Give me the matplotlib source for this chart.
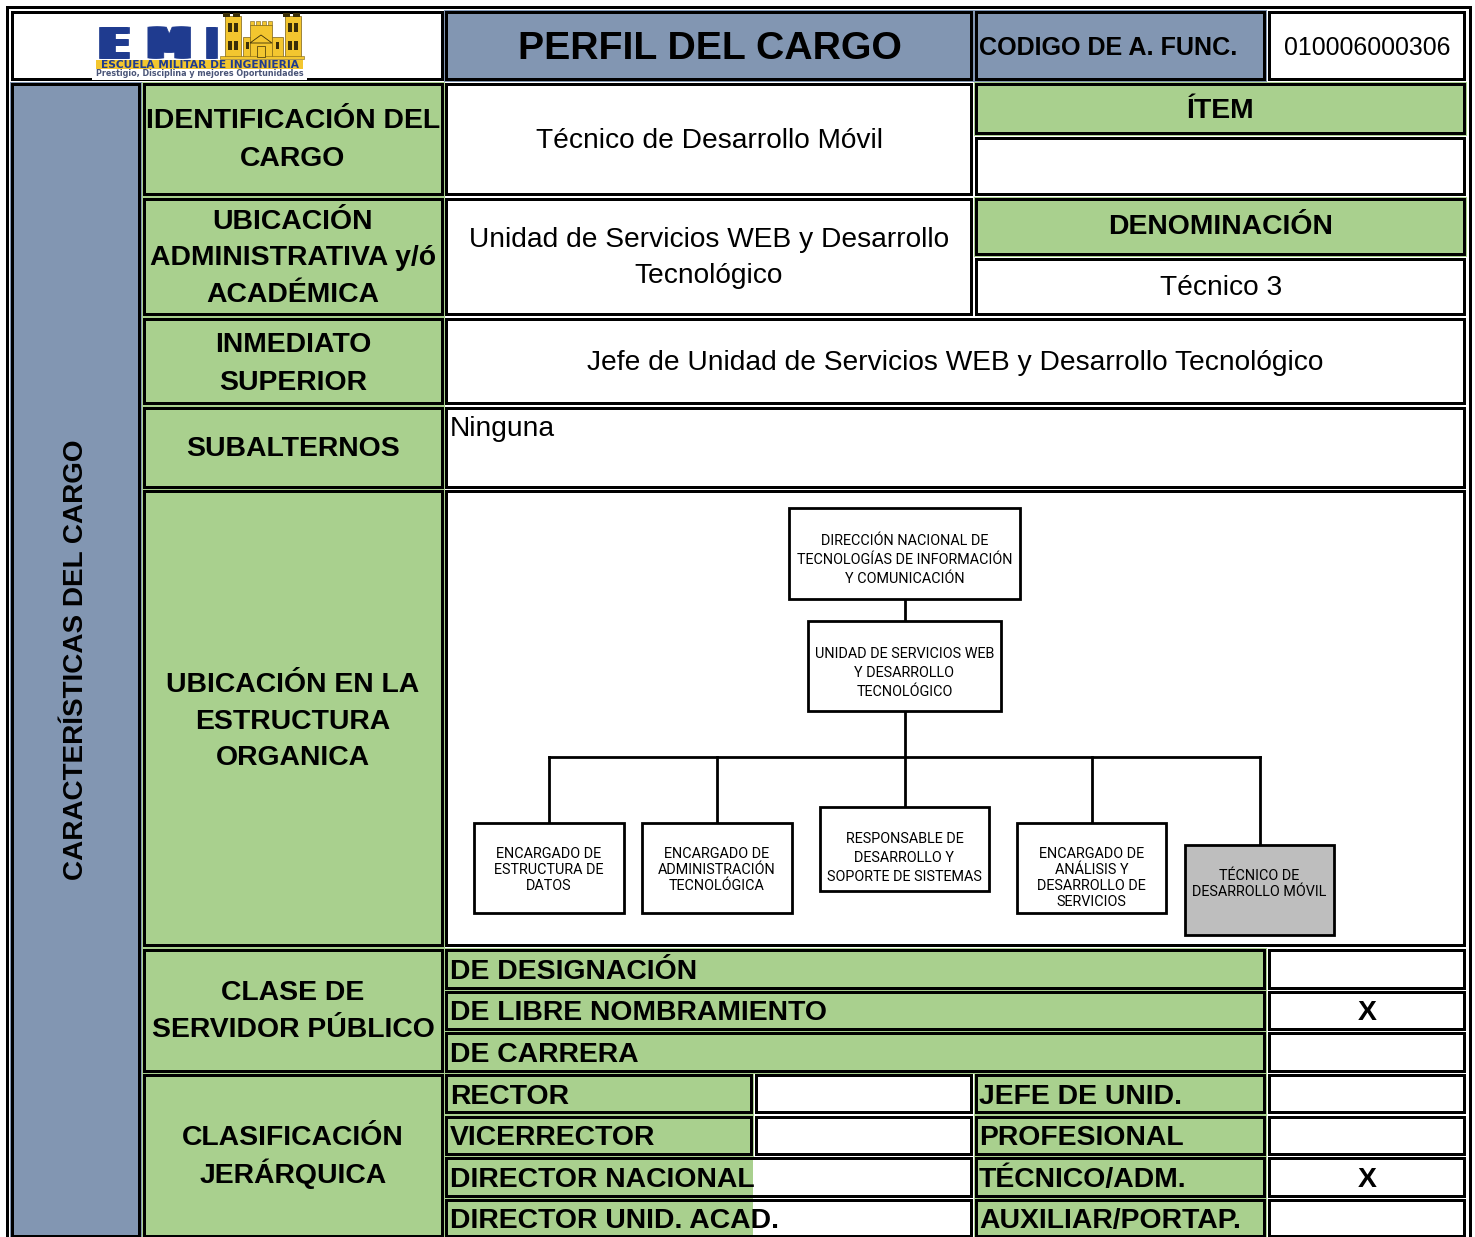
import matplotlib
matplotlib.use("Agg")
import matplotlib.pyplot as plt
from matplotlib.patches import Rectangle, Polygon
import matplotlib.patheffects as pe

GREEN = "#A9D08E"; BLUE = "#8296B2"; WHITE = "#FFFFFF"; GRAY = "#BEBEBE"; NAVY = "#1F3B8F"; GOLD = "#F3C62F"
DARK = "#3A2E08"
SANS = ["Liberation Sans", "DejaVu Sans"]
NARROW = ["Roboto", "Liberation Sans"]
HEAD = 20.4; BODY = 20.25

# ---- content ----
title = "PERFIL DEL CARGO"
code_label = "CODIGO DE A. FUNC."
code_value = "010006000306"
side_label = "CARACTERÍSTICAS DEL CARGO"
section_labels = [
    ["IDENTIFICACIÓN DEL", "CARGO"],
    ["UBICACIÓN", "ADMINISTRATIVA y/ó", "ACADÉMICA"],
    ["INMEDIATO", "SUPERIOR"],
    ["SUBALTERNOS"],
    ["UBICACIÓN EN LA", "ESTRUCTURA", "ORGANICA"],
    ["CLASE DE", "SERVIDOR PÚBLICO"],
    ["CLASIFICACIÓN", "JERÁRQUICA"],
]
servidor_rows = ["DE DESIGNACIÓN", "DE LIBRE NOMBRAMIENTO", "DE CARRERA"]
servidor_marks = ["", "X", ""]
jerarquia_left = ["RECTOR", "VICERRECTOR", "DIRECTOR NACIONAL", "DIRECTOR UNID. ACAD."]
jerarquia_right = ["JEFE DE UNID.", "PROFESIONAL", "TÉCNICO/ADM.", "AUXILIAR/PORTAP."]
jerarquia_marks = ["", "", "X", ""]
org_boxes = [
    ["DIRECCIÓN NACIONAL DE", "TECNOLOGÍAS DE INFORMACIÓN", "Y COMUNICACIÓN"],
    ["UNIDAD DE SERVICIOS WEB", "Y DESARROLLO", "TECNOLÓGICO"],
    ["ENCARGADO DE", "ESTRUCTURA DE", "DATOS"],
    ["ENCARGADO DE", "ADMINISTRACIÓN", "TECNOLÓGICA"],
    ["RESPONSABLE DE", "DESARROLLO Y", "SOPORTE DE SISTEMAS"],
    ["ENCARGADO DE", "ANÁLISIS Y", "DESARROLLO DE", "SERVICIOS"],
    ["TÉCNICO DE", "DESARROLLO MÓVIL"],
]

# ---- page, one unit per pixel ----
fig = plt.figure(figsize=(14.75, 12.37), dpi=100)
ax = fig.add_axes([0, 0, 1, 1])
ax.set_xlim(0, 1475); ax.set_ylim(1237, 0); ax.axis("off")


def cell(x0, y0, x1, y1, face=WHITE, lw=2.16, z=2, under=True):
    if under and face != WHITE:
        ax.add_patch(Rectangle((x0 - 2.5, y0 - 2.5), x1 - x0 + 5, y1 - y0 + 5, fc=face, ec="none", zorder=1.5))
    ax.add_patch(Rectangle((x0, y0), x1 - x0, y1 - y0, fc=face, ec="black", lw=lw,
                           joinstyle="miter", zorder=z))


def label(x, y, s, size=HEAD, bold=True, ha="center", va="baseline", fam=SANS, z=6, **kw):
    return ax.text(x, y, s, fontsize=size, fontweight="bold" if bold else "normal", ha=ha, va=va,
                   family=fam, zorder=z, color=kw.pop("color", "black"), **kw)


# outer frame
ax.plot([6.5, 6.5, 1469.5, 1469.5], [1237, 6.5, 6.5, 1237], color="black", lw=2.16, zorder=1,
        solid_joinstyle="miter", solid_capstyle="butt")

# header
cell(12, 12, 442, 79)
cell(446, 12, 971, 79, BLUE)
cell(976, 12, 1264, 79, BLUE)
cell(1269, 12, 1464, 79)
label(710, 59, title, size=28.3)
label(979, 55, code_label, size=18.1, ha="left")
label(1367.5, 55, code_value, size=17.9, bold=False)

# side column
cell(12, 84, 139, 1236, BLUE)
label(76.5, 660, side_label, size=20.1, rotation=90, va="center", rotation_mode="anchor")

# section headings
section_boxes = [(84, 194), (199, 314), (319, 403), (408, 487), (491, 945), (950, 1071), (1075, 1236)]
section_baselines = [[128, 166], [229, 265, 302], [352, 390], [456], [692, 729, 765], [1000, 1037], [1145, 1183]]
for (y0, y1), lines, ys in zip(section_boxes, section_labels, section_baselines):
    cell(144, y0, 442, y1, GREEN)
    for s, y in zip(lines, ys):
        label(293, y, s)

# identification values
cell(446, 84, 971, 194)
label(709, 148, "Técnico de Desarrollo Móvil", size=BODY, bold=False)
cell(976, 84, 1464, 133, GREEN)
label(1220, 117.5, "ÍTEM")
cell(976, 138, 1464, 194)
cell(446, 199, 971, 314)
label(709, 247, "Unidad de Servicios WEB y Desarrollo", size=BODY, bold=False)
label(709, 283, "Tecnológico", size=BODY, bold=False)
cell(976, 199, 1464, 254, GREEN)
label(1221, 234.5, "DENOMINACIÓN")
cell(976, 259, 1464, 314)
label(1221, 295, "Técnico 3", size=BODY, bold=False)
cell(446, 319, 1464, 403)
label(955.5, 370, "Jefe de Unidad de Servicios WEB y Desarrollo Tecnológico", size=BODY, bold=False)
cell(446, 408, 1464, 487)
label(450, 436, "Ninguna", size=BODY, bold=False, ha="left")
cell(446, 491, 1464, 945)

# organisation chart
ORG_LW = 2.0
for xs, ys in [([905, 905], [599, 621]), ([905, 905], [711, 807]), ([549, 1260], [757, 757]),
               ([549, 549], [757, 823]), ([717, 717], [757, 823]), ([1092, 1092], [757, 823]),
               ([1260, 1260], [757, 845])]:
    ax.plot(xs, ys, color="black", lw=ORG_LW, zorder=3, solid_capstyle="projecting")
org_pos = [(789, 508, 1020, 599), (808, 621, 1001, 711), (474, 823, 624, 913), (642, 823, 792, 913),
           (820, 807, 989, 891), (1017, 823, 1166, 913), (1185, 845, 1334, 935)]
org_base = [[545, 564, 583], [658, 677, 696], [858, 874, 890], [858, 874, 890], [843, 862, 881],
            [858, 874, 890, 906], [880, 896]]
for i, ((x0, y0, x1, y1), lines, ys) in enumerate(zip(org_pos, org_boxes, org_base)):
    cell(x0, y0, x1, y1, GRAY if i == 6 else WHITE, lw=ORG_LW, z=4, under=False)
    for s, y in zip(lines, ys):
        label((x0 + x1) / 2, y, s, size=10.4, bold=False, fam=NARROW)

# clase de servidor
row_y = [(950, 988), (992, 1029), (1033, 1071)]
row_base = [979, 1020, 1062]
for (y0, y1), s, m, yb in zip(row_y, servidor_rows, servidor_marks, row_base):
    cell(446, y0, 1264, y1, GREEN)
    cell(1269, y0, 1464, y1)
    label(450, yb, s, ha="left")
    label(1367, yb, m)

# clasificacion jerarquica
jer_y = [(1075, 1112), (1117, 1154), (1158, 1196), (1200, 1236)]
jer_base = [1104, 1145, 1187, 1228]
for i, ((y0, y1), a, b, m, yb) in enumerate(zip(jer_y, jerarquia_left, jerarquia_right, jerarquia_marks, jer_base)):
    if i < 2:
        cell(446, y0, 751, y1, GREEN)
        cell(756, y0, 971, y1)
    else:
        ax.add_patch(Rectangle((443.5, y0 - 2.5), 309.5, y1 - y0 + 5, fc=GREEN, ec="none", zorder=1.5))
        cell(446, y0, 971, y1)
        ax.add_patch(Rectangle((447.5, y0 + 1.5), 305.5, y1 - y0 - 3, fc=GREEN, ec="none", zorder=3))
    cell(976, y0, 1264, y1, GREEN)
    cell(1269, y0, 1464, y1)
    label(450, yb, a, ha="left")
    label(979, yb, b, ha="left")
    label(1367, yb, m)

# logo
ax.add_patch(Rectangle((92, 60), 215, 19.5, fc=WHITE, ec="none", zorder=5))
for x, s, widen in [(95, "E", 6), (144, "M", 6), (202, "I", 2)]:
    t = label(x, 58, s, size=30.5, fam=["DejaVu Sans"], ha="left", color=NAVY)
    t.set_path_effects([pe.Stroke(linewidth=0.5, foreground=NAVY, offset=(d, 0)) for d in range(0, widen + 1)])
ax.add_patch(Rectangle((96, 60), 207, 9, fc=GOLD, ec="none", zorder=6))
label(200, 67.7, "ESCUELA MILITAR DE INGENIERIA", size=7.7, fam=["DejaVu Sans"], color=NAVY, z=7)
label(200, 76, "Prestigio, Disciplina y mejores Oportunidades", size=5.8, fam=["DejaVu Sans"], color="#4A5578", z=7)
for x, y, w, h in [(243, 37, 40, 20), (250, 25, 22, 32), (225, 16, 16, 42), (285, 16, 16, 42)]:
    ax.add_patch(Rectangle((x, y), w, h, fc=GOLD, ec="#7A6015", lw=0.5, zorder=5))
for x in (223, 233, 283, 293):
    ax.add_patch(Rectangle((x, 13), 7, 4, fc=DARK, ec="none", zorder=6))
for x in (228, 234, 288, 294):
    ax.add_patch(Rectangle((x, 23), 3.5, 9, fc=DARK, ec="none", zorder=6))
    ax.add_patch(Rectangle((x, 41), 3.5, 9, fc=DARK, ec="none", zorder=6))
for x in (246, 276):
    ax.add_patch(Rectangle((x, 42), 3, 7, fc=DARK, ec="none", zorder=6))
for x in (250, 256, 262, 268):
    ax.add_patch(Rectangle((x, 21), 4, 4, fc=GOLD, ec="#7A6015", lw=0.4, zorder=6))
ax.add_patch(Polygon([(250, 43), (261, 35), (272, 43)], closed=True, fc=GOLD, ec=DARK, lw=0.6, zorder=6))
ax.add_patch(Rectangle((257, 46), 8, 11, fc=GOLD, ec=DARK, lw=0.5, zorder=6))
ax.add_patch(Rectangle((220, 56), 84, 3, fc=GOLD, ec="#7A6015", lw=0.4, zorder=5))

fig.savefig("out.png", dpi=100, facecolor="white")
